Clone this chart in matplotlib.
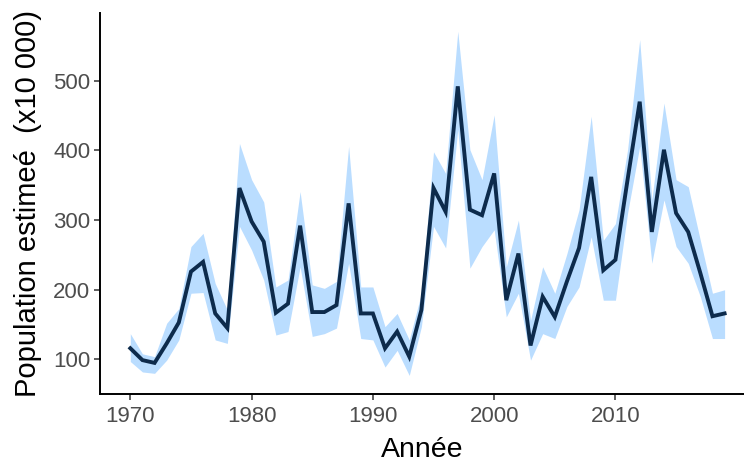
import matplotlib.pyplot as plt
import numpy as np

# Estimated population (x10 000), 1970-2019, with confidence band
years = list(range(1970, 2020))
estimate = [116, 99, 95, 123, 153, 226, 240, 166, 145, 346, 298, 269, 167, 180, 292, 168, 168, 178, 324, 166,
            166, 116, 140, 104, 171, 346, 312, 492, 315, 307, 367, 185, 252, 120, 190, 161, 212, 260, 362, 228,
            243, 358, 470, 283, 401, 310, 283, 224, 162, 166]
lower = [97, 82, 80, 99, 128, 195, 196, 128, 123, 291, 257, 214, 135, 140, 233, 133, 137, 145, 238, 130,
         128, 89, 113, 77, 147, 291, 260, 430, 231, 262, 286, 161, 195, 99, 137, 130, 176, 204, 276, 185,
         185, 310, 406, 238, 329, 262, 238, 190, 130, 130]
upper = [137, 108, 104, 152, 173, 262, 281, 209, 171, 410, 358, 326, 204, 214, 341, 207, 202, 212, 406, 204,
         204, 147, 166, 128, 195, 398, 367, 571, 401, 358, 451, 233, 300, 156, 233, 195, 252, 315, 449, 271,
         295, 401, 559, 329, 468, 358, 348, 271, 195, 200]

plt.rcParams['font.family'] = ['Liberation Sans', 'DejaVu Sans']

fig = plt.figure(figsize=(7.44, 4.63), dpi=100)
ax = fig.add_axes([0.1344, 0.150, 0.8656, 0.823])

ax.fill_between(years, lower, upper, color='#BADDFF', linewidth=0)
ax.plot(years, estimate, color='#0D2B4C', linewidth=2.8, solid_joinstyle='miter')

ax.set_xlim(1967.5, 2020.6)
ax.set_ylim(51, 598)
ax.set_xticks([1970, 1980, 1990, 2000, 2010])
ax.set_yticks([100, 200, 300, 400, 500])

for side in ['top', 'right']:
    ax.spines[side].set_visible(False)
for side in ['left', 'bottom']:
    ax.spines[side].set_linewidth(1.4)
    ax.spines[side].set_color('black')

ax.tick_params(axis='both', length=4, width=1.1, color='#333333', labelcolor='#4D4D4D', labelsize=16, pad=3)
ax.tick_params(axis='x', pad=5)

ax.set_xlabel('Année', fontsize=20.5, color='black', labelpad=7)
ax.set_ylabel('Population estimeé  (x10 000)', fontsize=21, color='black', labelpad=8)

fig.savefig('out.png', dpi=100)
